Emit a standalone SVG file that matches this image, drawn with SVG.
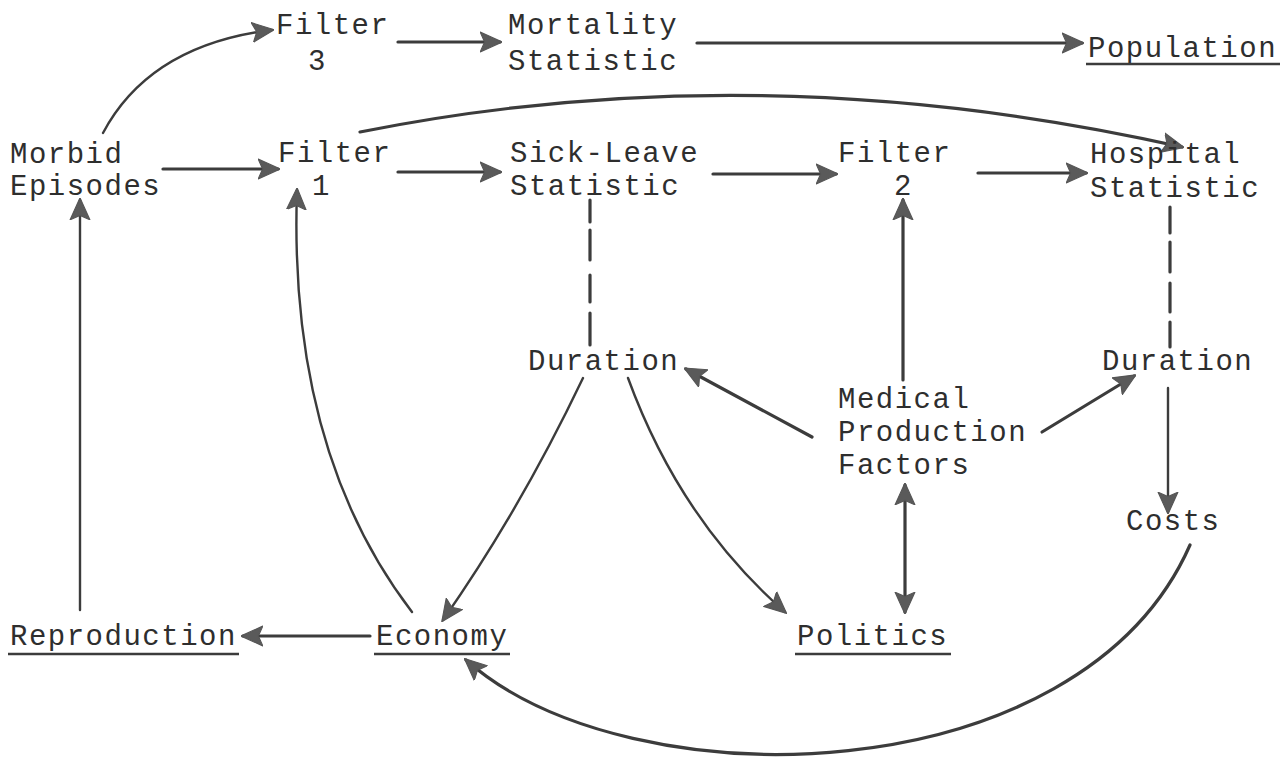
<svg xmlns="http://www.w3.org/2000/svg" width="1288" height="773" viewBox="0 0 1288 773">
<style>
text{font-family:"Liberation Mono","Courier New",monospace;font-size:29px;fill:#2e2e2e;letter-spacing:1.5px}
.ln{fill:none;stroke:#3c3c3c;stroke-width:3.2;stroke-linecap:round}
.thin{fill:none;stroke:#3c3c3c;stroke-width:2.4;stroke-linecap:round}
.ul{stroke:#3c3c3c;stroke-width:2.5}
</style>
<defs>
<marker id="ah" viewBox="0 0 20 20" refX="18" refY="10" markerWidth="22" markerHeight="22" markerUnits="userSpaceOnUse" orient="auto-start-reverse">
<path d="M0,1 L20,10 L0,19 L4,10 Z" fill="#5a5a5a" stroke="#555" stroke-width="1" stroke-linejoin="round"/>
</marker>
</defs>
<rect width="1288" height="773" fill="#fff"/>
<g id="connectors">
<path class="thin" d="M103 133 Q150 45 272 30" marker-end="url(#ah)"/>
<path class="ln" d="M398 42 L500 42" marker-end="url(#ah)"/>
<path class="ln" d="M697 43 L1082 43" marker-end="url(#ah)"/>
<path class="ln" d="M360 132 Q760 52 1182 147" marker-end="url(#ah)"/>
<path class="ln" d="M163 169 L278 169" marker-end="url(#ah)"/>
<path class="ln" d="M398 172 L500 172" marker-end="url(#ah)"/>
<path class="ln" d="M713 174 L836 174" marker-end="url(#ah)"/>
<path class="ln" d="M978 173 L1086 173" marker-end="url(#ah)"/>
<path class="ln" d="M590 200 L590 222 M590 230 L590 260 M590 275 L590 302 M590 313 L590 345"/>
<path class="ln" d="M1170 207 L1170 233 M1170 242 L1170 272 M1170 283 L1170 312 M1170 322 L1170 347"/>
<path class="ln" d="M903 380 L903 200" marker-end="url(#ah)"/>
<path class="ln" d="M812 437 L686 369" marker-end="url(#ah)"/>
<path class="ln" d="M1042 432 L1134 376" marker-end="url(#ah)"/>
<path class="thin" d="M1168 388 L1168 512" marker-end="url(#ah)"/>
<path class="ln" d="M905 485 L905 612" marker-start="url(#ah)" marker-end="url(#ah)"/>
<path class="thin" d="M583 378 Q520 510 443 620" marker-end="url(#ah)"/>
<path class="thin" d="M628 378 Q680 520 785 612" marker-end="url(#ah)"/>
<path class="thin" d="M412 612 Q288 450 297 190" marker-end="url(#ah)"/>
<path class="thin" d="M80 610 L80 200" marker-end="url(#ah)"/>
<path class="ln" d="M370 636 L243 636" marker-end="url(#ah)"/>
<path class="ln" d="M1190 545 C1080 795 630 805 466 660" marker-end="url(#ah)"/>
</g>
<g id="filter3"><text x="276" y="34">Filter</text><text x="308" y="70">3</text></g>
<g id="mortality"><text x="508" y="34">Mortality</text><text x="508" y="70">Statistic</text></g>
<g id="population"><text x="1088" y="57">Population</text><line class="ul" x1="1086" y1="64" x2="1280" y2="64"/></g>
<g id="morbid"><text x="10" y="163">Morbid</text><text x="10" y="195">Episodes</text></g>
<g id="filter1"><text x="278" y="162">Filter</text><text x="312" y="195">1</text></g>
<g id="sickleave"><text x="510" y="162">Sick-Leave</text><text x="510" y="195">Statistic</text></g>
<g id="filter2"><text x="838" y="162">Filter</text><text x="894" y="195">2</text></g>
<g id="hospital"><text x="1090" y="163">Hospital</text><text x="1090" y="197">Statistic</text></g>
<g id="duration1"><text x="528" y="370">Duration</text></g>
<g id="duration2"><text x="1102" y="370">Duration</text></g>
<g id="medical"><text x="838" y="408">Medical</text><text x="838" y="441">Production</text><text x="838" y="474">Factors</text></g>
<g id="costs"><text x="1126" y="530">Costs</text></g>
<g id="reproduction"><text x="10" y="645">Reproduction</text><line class="ul" x1="8" y1="654" x2="239" y2="654"/></g>
<g id="economy"><text x="376" y="645">Economy</text><line class="ul" x1="374" y1="654" x2="510" y2="654"/></g>
<g id="politics"><text x="797" y="645">Politics</text><line class="ul" x1="795" y1="654" x2="951" y2="654"/></g>
</svg>
